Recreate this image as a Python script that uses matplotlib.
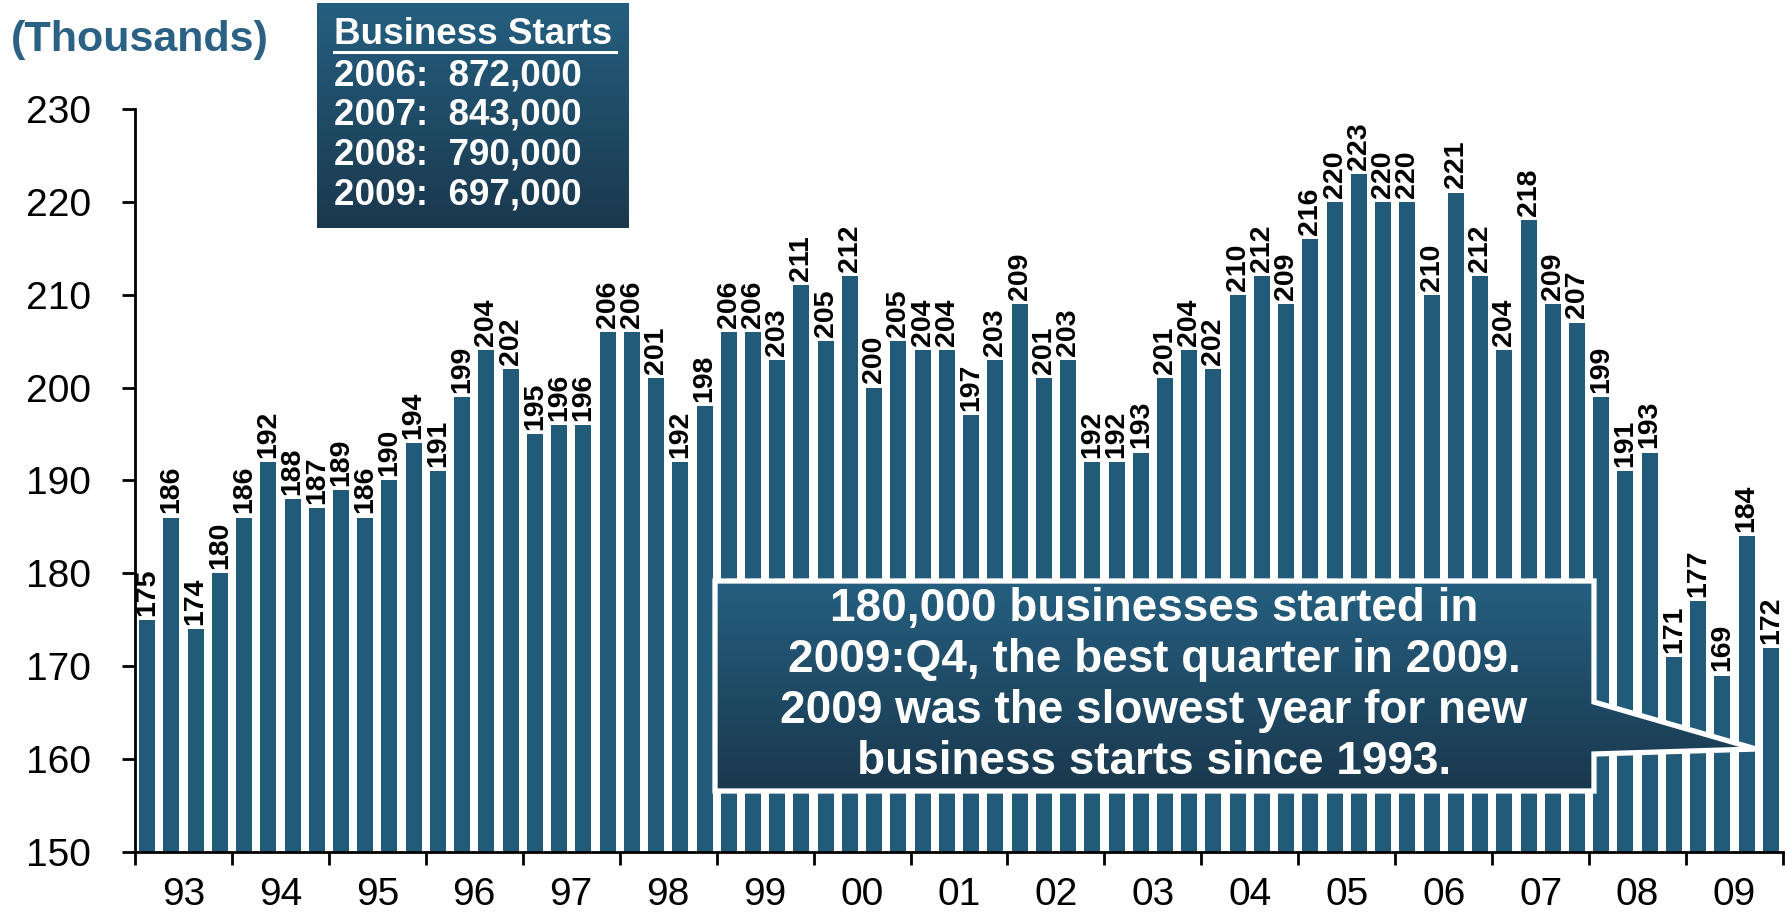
import matplotlib
matplotlib.use("Agg")
import matplotlib.pyplot as plt
from matplotlib import font_manager
from matplotlib.patches import Polygon, Rectangle
import numpy as np

# Quarterly business starts, thousands (1993:Q1 - 2009:Q4)
years = ["93", "94", "95", "96", "97", "98", "99", "00", "01",
         "02", "03", "04", "05", "06", "07", "08", "09"]
starts = [175, 186, 174, 180,
          186, 192, 188, 187,
          189, 186, 190, 194,
          191, 199, 204, 202,
          195, 196, 196, 206,
          206, 201, 192, 198,
          206, 206, 203, 211,
          205, 212, 200, 205,
          204, 204, 197, 203,
          209, 201, 203, 192,
          192, 193, 201, 204,
          202, 210, 212, 209,
          216, 220, 223, 220,
          220, 210, 221, 212,
          204, 218, 209, 207,
          199, 191, 193, 171,
          177, 169, 184, 172]
annual_years = ["2006", "2007", "2008", "2009"]
annual_totals = ["872,000", "843,000", "790,000", "697,000"]
y_ticks = [150, 160, 170, 180, 190, 200, 210, 220, 230]
callout_lines = ["180,000 businesses started in",
                 "2009:Q4, the best quarter in 2009.",
                 "2009 was the slowest year for new",
                 "business starts since 1993."]

installed = {f.name for f in font_manager.fontManager.ttflist}
FONT = "Liberation Sans" if "Liberation Sans" in installed else "DejaVu Sans"

BAR = "#225a7a"
TOP = "#255f80"
BOTTOM = "#1a384d"

W, H = 1787, 916
fig = plt.figure(figsize=(W / 100, H / 100), dpi=100)
fig.patch.set_facecolor("white")

ax = fig.add_axes([135 / W, 1 - 852 / H, (1783 - 135) / W, (852 - 109) / H])
x = np.arange(len(starts))
ax.bar(x, starts, width=0.66, color=BAR, zorder=2)
ax.set_xlim(-0.5, len(starts) - 0.5)
ax.set_ylim(y_ticks[0], y_ticks[-1])

for xi, v in zip(x, starts):
    ax.annotate(str(v), (xi, v), xytext=(0, 3), textcoords="offset points",
                rotation=90, ha="center", va="bottom", fontsize=20.5,
                fontweight="bold", family=FONT, color="black", zorder=3)

for s in ("top", "right"):
    ax.spines[s].set_visible(False)
for s in ("left", "bottom"):
    ax.spines[s].set_linewidth(2)
    ax.spines[s].set_color("black")

ax.set_yticks(y_ticks)
ax.set_yticklabels([str(t) for t in y_ticks], family=FONT, fontsize=28)
ax.tick_params(axis="y", direction="out", length=9.5, width=2, pad=22)

n_years = len(years)
ax.set_xticks(np.arange(n_years + 1) * 4 - 0.5)
ax.set_xticklabels([])
ax.set_xticks(np.arange(n_years) * 4 + 1.5, minor=True)
ax.set_xticklabels(years, minor=True, family=FONT, fontsize=28)
ax.tick_params(axis="x", which="major", direction="out", length=9.5, width=2)
ax.tick_params(axis="x", which="minor", length=0, pad=18)

fig.text(11 / W, 1 - 40 / H, "(Thousands)", family=FONT, fontsize=31,
         fontweight="bold", color="#2b6184", va="center", ha="left")

# overlay in pixel space for the boxes
ov = fig.add_axes([0, 0, 1, 1], zorder=10)
ov.set_xlim(0, W)
ov.set_ylim(H, 0)
ov.axis("off")
ov.patch.set_alpha(0)

grad = np.linspace(0, 1, 256)[:, None]
cmap = matplotlib.colors.LinearSegmentedColormap.from_list("g", [TOP, BOTTOM])


def gradient_patch(patch, x0, x1, y0, y1):
    ov.add_patch(patch)
    im = ov.imshow(grad, cmap=cmap, aspect="auto", extent=(x0, x1, y1, y0),
                   zorder=patch.get_zorder() - 0.1, interpolation="bilinear")
    im.set_clip_path(patch)


# annual totals box
leg = Rectangle((317, 3), 312, 225, facecolor="none", edgecolor="none", zorder=11)
gradient_patch(leg, 317, 629, 3, 228)
ov.text(334, 35, "Business Starts", family=FONT, fontsize=26.5, fontweight="bold",
        color="white", va="center", ha="left", zorder=12)
ov.plot([334, 616], [52, 52], color="white", lw=2.2, zorder=12)
for i, (yr, tot) in enumerate(zip(annual_years, annual_totals)):
    ov.text(334, 76 + i * 39.5, f"{yr}:  {tot}", family=FONT, fontsize=26.5,
            fontweight="bold", color="white", va="center", ha="left", zorder=12)

# callout with pointer
pts = [(715, 581), (1594, 581), (1594, 702), (1756, 749), (1594, 754),
       (1594, 791), (715, 791)]
call = Polygon(pts, closed=True, facecolor="none", edgecolor="white", lw=3.8,
               zorder=11, joinstyle="miter")
gradient_patch(Polygon(pts, closed=True, facecolor="none", edgecolor="none",
                       zorder=11), 715, 1756, 581, 791)
ov.add_patch(call)
for i, line in enumerate(callout_lines):
    ov.text(1154, 609 + i * 51, line, family=FONT, fontsize=33,
            fontweight="bold", color="white", va="center", ha="center", zorder=12)

fig.savefig("out.png", dpi=100)
